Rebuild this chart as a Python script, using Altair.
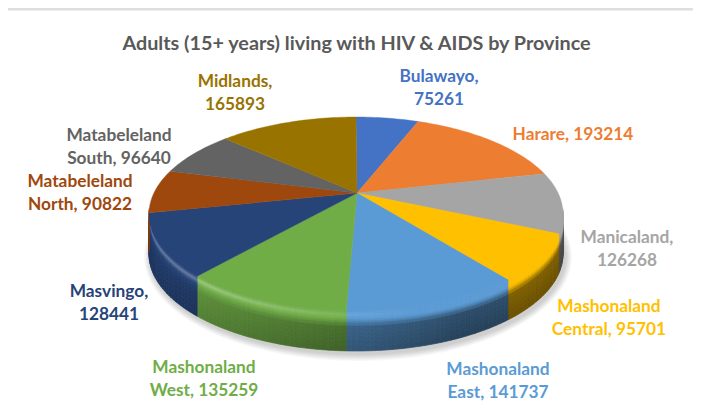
import math
import altair as alt

# ---- data ----
provinces = ["Bulawayo", "Harare", "Manicaland", "Mashonaland Central", "Mashonaland East",
             "Mashonaland West", "Masvingo", "Matabeleland North", "Matabeleland South", "Midlands"]
values = [75261, 193214, 126268, 95701, 141737, 135259, 128441, 90822, 96640, 165893]
colors = ["#4472C4", "#ED7D31", "#A5A5A5", "#FFC000", "#5B9BD5",
          "#70AD47", "#264478", "#9E480E", "#636363", "#997300"]
label_lines = [["Bulawayo,", "75261"], ["Harare, 193214"], ["Manicaland,", "126268"],
               ["Mashonaland", "Central, 95701"], ["Mashonaland", "East, 141737"],
               ["Mashonaland", "West, 135259"], ["Masvingo,", "128441"],
               ["Matabeleland", "North, 90822"], ["Matabeleland", "South, 96640"],
               ["Midlands,", "165893"]]
title_text = "Adults (15+ years) living with HIV & AIDS by Province"

# ---- layout (page pixels, chart origin is at 8,8) ----
W, H = 685, 404
OX, OY = 8, 8
CX, CY, RX, RY = 356.0, 214.0, 207.0, 97.0
TILT = 21.0 / RY           # perspective shift of the apex
DEPTH_EDGES = [0, 1.5, 3, 4.5, 6, 8, 10, 12, 15, 18, 22, 26, 30, 35, 40]
label_pos = [(439, 76.5), (573, 134.5), (627, 237.5), (609, 306.5), (498, 369.5),
             (204, 367.5), (109, 291.5), (80, 181.5), (119, 135.5), (235, 81.5)]
LINE_GAP = 23.5


def rim(theta_deg, d=0.0):
    t = math.radians(theta_deg)
    u, v = math.sin(t), math.cos(t)
    den = 1 + TILT * v
    up = u * math.sqrt(1 - TILT ** 2) / den
    vp = (v + TILT) / den
    return up, vp, [CX + RX * up - OX, CY - RY * vp + d - OY]


def poly(points, **props):
    ring = [list(p) for p in points] + [list(points[0])]
    return {"type": "Feature", "properties": props,
            "geometry": {"type": "Polygon", "coordinates": [ring]}}


def hexmix(hex_col, factor, white):
    rgb = [int(hex_col[i:i + 2], 16) for i in (1, 3, 5)]
    out = []
    for c in rgb:
        c = c * factor
        c = c + (255 - c) * white
        out.append(int(max(0, min(255, round(c)))))
    return "#%02x%02x%02x" % tuple(out)


def shade(hex_col, d, s):
    wall = max(0.42, min(0.85, 0.55 - 0.25 * s))
    hi = 0.3 * max(0.0, min(1.0, 0.3 - s))
    if d <= 4:
        return hexmix(hex_col, 1.0, hi * d / 4)
    if d <= 8:
        return hexmix(hex_col, 1.0, hi * (8 - d) / 4)
    k = min(1.0, (d - 8) / 8)
    return hexmix(hex_col, 1 + (wall + 0.08 - 1) * k, 0) if d < 16 else hexmix(
        hex_col, wall + 0.08 * (40 - d) / 24, 0)


total = sum(values)
bounds = [0.0]
for val in values:
    bounds.append(bounds[-1] + val / total * 360)

top_feats, wall_feats = [], []
apex = [CX - OX + 1, CY - 21 - OY]
STEP = 1.3
for i, name in enumerate(provinces):
    a, b = bounds[i], bounds[i + 1]
    n = max(2, int((b - a) / STEP) + 1)
    grid = [a + (b - a) * k / n for k in range(n + 1)]
    top_feats.append(poly([apex] + [rim(t)[2] for t in grid], name=name, c=colors[i]))
    for t0, t1 in zip(grid[:-1], grid[1:]):
        up0, vp0, _ = rim(t0)
        up1, vp1, _ = rim(t1)
        if max(vp0, vp1) > 0.06:
            continue
        s = (up0 + up1) / 2
        for d0, d1 in zip(DEPTH_EDGES[:-1], DEPTH_EDGES[1:]):
            wall_feats.append(poly([rim(t0, d0)[2], rim(t1, d0)[2], rim(t1, d1)[2], rim(t0, d1)[2]],
                                   name=name, c=shade(colors[i], (d0 + d1) / 2, s)))

shadow_feats = []
for k in range(1, 8):
    pts = []
    for deg in range(0, 360, 4):
        t = math.radians(deg)
        pts.append([CX + 2 + (RX + k) * math.sin(t) - OX, CY + 43 + (RY + k) * math.cos(t) - OY])
    shadow_feats.append(poly(pts, name="shadow"))

label_rows = []
for i, lines in enumerate(label_lines):
    for j, line in enumerate(lines):
        label_rows.append({"text": line, "c": colors[i],
                           "x": label_pos[i][0] - OX, "y": label_pos[i][1] + j * LINE_GAP - OY})

proj = alt.Projection(type="identity", scale=1, translate=[0, 0])

shadow = alt.Chart(alt.Data(values=shadow_feats)).mark_geoshape(
    fill="#000000", fillOpacity=0.028, stroke=None, clip=False).project(**proj.to_dict())
walls = alt.Chart(alt.Data(values=wall_feats)).mark_geoshape(strokeWidth=0.7).encode(
    fill=alt.Fill("properties.c:N", scale=None), stroke=alt.Stroke("properties.c:N", scale=None)
).project(**proj.to_dict())
tops = alt.Chart(alt.Data(values=top_feats)).mark_geoshape(strokeWidth=0.4).encode(
    fill=alt.Fill("properties.c:N", scale=None), stroke=alt.Stroke("properties.c:N", scale=None)
).project(**proj.to_dict())
labels = alt.Chart(alt.Data(values=label_rows)).mark_text(
    font="Lato", fontWeight="bold", fontSize=17.3, align="center", baseline="middle").encode(
    x=alt.X("x:Q", scale=None), y=alt.Y("y:Q", scale=None),
    text="text:N", color=alt.Color("c:N", scale=None))
frame = alt.Chart(alt.Data(values=[{"a": 0}])).mark_rule(color="#dedede", strokeWidth=3).encode(
    x=alt.value(0), x2=alt.value(W), y=alt.value(1))

chart = alt.layer(frame, shadow, walls, tops, labels).properties(
    width=W, height=H, padding=0, autosize=alt.AutoSizeParams(type="none"),
    title=alt.TitleParams(title_text, font="Lato", fontWeight="bold", fontSize=19.8, color="#595959",
                          anchor="middle", offset=0, dx=6, dy=62.5, baseline="alphabetic"),
).configure_view(stroke=None)

chart.save("out.html", embed_options={"renderer": "svg", "actions": False})
